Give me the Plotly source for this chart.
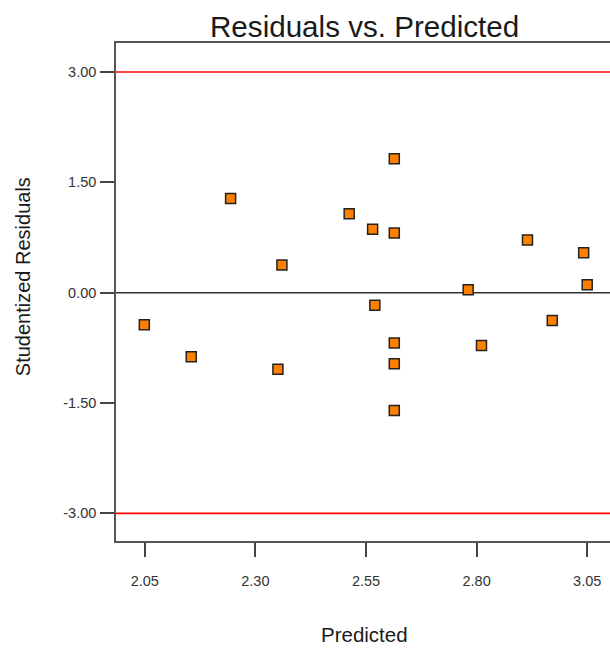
import plotly.graph_objects as go

# Predicted values and studentized residuals for each run
predicted = [2.049, 2.155, 2.244, 2.351, 2.360, 2.512, 2.565, 2.570, 2.614, 2.614,
             2.614, 2.614, 2.614, 2.781, 2.811, 2.915, 2.971, 3.042, 3.050]
residuals = [-0.435, -0.87, 1.28, -1.04, 0.377, 1.074, 0.861, -0.17, 1.822, 0.812,
             -0.684, -0.965, -1.60, 0.041, -0.717, 0.717, -0.377, 0.544, 0.109]

# Outlier limits and reference line
limits = [3.0, -3.0]
center = 0.0

x_ticks = [2.05, 2.30, 2.55, 2.80, 3.05]
y_ticks = [-3.0, -1.5, 0.0, 1.5, 3.0]

tick_font = dict(family="Liberation Sans, Arial, sans-serif", size=14.5, color="#333333")
label_font = "Liberation Sans, Arial, Helvetica, sans-serif"

fig = go.Figure()

for lim in limits:
    fig.add_hline(y=lim, line=dict(color="#ff0000", width=1.6), layer="below")
fig.add_hline(y=center, line=dict(color="#333333", width=1.6), layer="below")

fig.add_trace(go.Scatter(
    x=predicted, y=residuals, mode="markers",
    marker=dict(symbol="square", size=10, color="#ff8000",
                line=dict(color="#222222", width=1.5)),
    hoverinfo="x+y", showlegend=False,
))

fig.update_xaxes(
    range=[1.985, 3.1015], tickvals=x_ticks, ticktext=[f"{v:.2f}" for v in x_ticks],
    showgrid=False, zeroline=False, showline=True, mirror=True,
    linecolor="#555555", linewidth=1.6, ticks="outside", ticklen=14,
    tickcolor="#444444", tickwidth=1.6, tickfont=tick_font, ticklabelstandoff=12,
)
fig.update_yaxes(
    range=[-3.376, 3.395], tickvals=y_ticks, ticktext=[f"{v:.2f}" for v in y_ticks],
    showgrid=False, zeroline=False, showline=True, mirror=False,
    linecolor="#555555", linewidth=1.6, ticks="outside", ticklen=14,
    tickcolor="#444444", tickwidth=1.6, tickfont=tick_font, ticklabelstandoff=1,
)

fig.add_annotation(text="Residuals vs. Predicted", xref="paper", yref="paper",
                   x=0.5025, y=1.0323, xanchor="center", yanchor="middle",
                   showarrow=False, font=dict(family=label_font, size=29.6, color="#1a1a1a"))
fig.add_annotation(text="Studentized Residuals", xref="paper", yref="paper",
                   x=-0.188, y=0.53, xanchor="center", yanchor="middle", textangle=-90,
                   showarrow=False, font=dict(family=label_font, size=20, color="#1a1a1a"))
fig.add_annotation(text="Predicted", xref="paper", yref="paper",
                   x=0.504, y=-0.187, xanchor="center", yanchor="middle",
                   showarrow=False, font=dict(family=label_font, size=20.5, color="#1a1a1a"))

fig.update_layout(
    width=610, height=648,
    margin=dict(l=116, r=0, t=43, b=107),
    paper_bgcolor="white", plot_bgcolor="white",
)

fig.write_html("out.html")
